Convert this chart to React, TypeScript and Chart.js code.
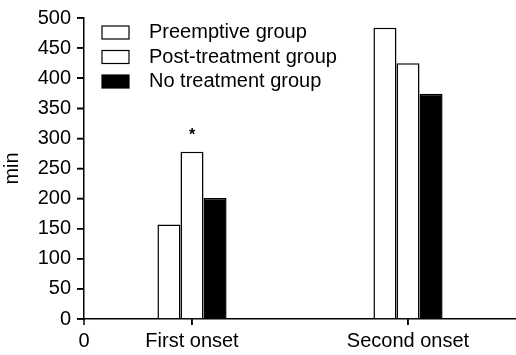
import React, { useEffect, useRef } from 'react';
import { Chart, registerables } from 'chart.js';
Chart.register(...registerables);

const categories = ['First onset', 'Second onset'];
const seriesNames = ['Preemptive group', 'Post-treatment group', 'No treatment group'];
const preemptive = [157, 484];
const postTreatment = [278, 425];
const noTreatment = [201, 374];
const postMarkers = ['*', ''];
const originLabel = '0';
const yAxisTitle = 'min';

const FONT = 'Arial, "Liberation Sans", Helvetica, sans-serif';
const FS = 20;

const overlayPlugin = {
  id: 'overlay',
  afterDraw(chart: any) {
    const ctx = chart.ctx;
    const area = chart.chartArea;
    const xs = chart.scales.x;
    const ys = chart.scales.y;
    ctx.save();
    ctx.strokeStyle = '#000';
    ctx.lineWidth = 1.5;
    ctx.beginPath();
    ctx.moveTo(area.left, area.bottom);
    ctx.lineTo(area.left, area.bottom + 6);
    ys.ticks.forEach((t: any) => {
      const py = ys.getPixelForValue(t.value);
      ctx.moveTo(area.left - 7, py);
      ctx.lineTo(area.left, py);
    });
    xs.ticks.forEach((_t: any, i: number) => {
      const px = xs.getPixelForTick(i);
      ctx.moveTo(px, area.bottom);
      ctx.lineTo(px, area.bottom + 6);
    });
    ctx.stroke();
    ctx.fillStyle = '#000';
    ctx.font = `${FS}px ${FONT}`;
    ctx.textAlign = 'center';
    ctx.textBaseline = 'middle';
    ctx.fillText(originLabel, xs.left, area.bottom + 22);
    chart.data.datasets.forEach((ds: any, i: number) => {
      const bx = area.left + 18;
      const by = area.top + 8 + i * 24.5;
      ctx.fillStyle = ds.backgroundColor;
      ctx.fillRect(bx, by, 27, 13);
      ctx.lineWidth = 1.2;
      ctx.strokeStyle = '#000';
      ctx.strokeRect(bx, by, 27, 13);
      ctx.fillStyle = '#000';
      ctx.textAlign = 'left';
      ctx.textBaseline = 'middle';
      ctx.font = `${FS}px ${FONT}`;
      ctx.fillText(ds.label, bx + 47, by + 6.5);
    });
    const meta = chart.getDatasetMeta(1);
    meta.data.forEach((bar: any, i: number) => {
      const m = postMarkers[i];
      if (!m) return;
      ctx.font = `bold 16px ${FONT}`;
      ctx.textAlign = 'center';
      ctx.textBaseline = 'middle';
      ctx.fillStyle = '#000';
      ctx.fillText(m, bar.x, bar.y - 16);
    });
    ctx.restore();
  },
};

export default function App() {
  const ref = useRef<HTMLCanvasElement>(null);
  useEffect(() => {
    document.body.style.margin = '0';
    const chart = new Chart(ref.current!, {
      type: 'bar',
      data: {
        labels: categories,
        datasets: [
          { label: seriesNames[0], data: preemptive, backgroundColor: '#fff', borderColor: '#000', borderWidth: 1.5 },
          { label: seriesNames[1], data: postTreatment, backgroundColor: '#fff', borderColor: '#000', borderWidth: 1.5 },
          { label: seriesNames[2], data: noTreatment, backgroundColor: '#000', borderColor: '#000', borderWidth: 1.5 },
        ],
      },
      options: {
        responsive: false,
        animation: false,
        layout: { padding: { top: 15, right: 0, left: 0, bottom: 0 } },
        datasets: { bar: { categoryPercentage: 0.32, barPercentage: 1 } },
        plugins: { legend: { display: false }, tooltip: { enabled: false } },
        scales: {
          x: {
            offset: true,
            grid: { offset: false, drawOnChartArea: false, drawTicks: true, tickLength: 6, color: '#000', lineWidth: 1.5 },
            border: { display: true, color: '#000', width: 1.5 },
            ticks: { color: '#000', font: { size: FS, family: FONT }, padding: 4, maxRotation: 0 },
            afterFit: (s: any) => { s.height = 36; },
          },
          y: {
            min: 0,
            max: 500,
            ticks: { stepSize: 50, color: '#000', font: { size: FS, family: FONT }, padding: 6 },
            grid: { drawOnChartArea: false, drawTicks: true, tickLength: 7, color: '#000', lineWidth: 1.5 },
            border: { display: true, color: '#000', width: 1.5 },
            title: { display: true, text: yAxisTitle, color: '#000', font: { size: FS, family: FONT }, padding: { top: 0, bottom: 0 } },
            afterFit: (s: any) => { s.width = 84; },
          },
        },
      },
      plugins: [overlayPlugin],
    });
    return () => chart.destroy();
  }, []);
  return (
    <div style={{ position: 'fixed', left: 0, top: 0, width: 516, height: 355, background: '#fff' }}>
      <canvas ref={ref} width={516} height={355} />
    </div>
  );
}
